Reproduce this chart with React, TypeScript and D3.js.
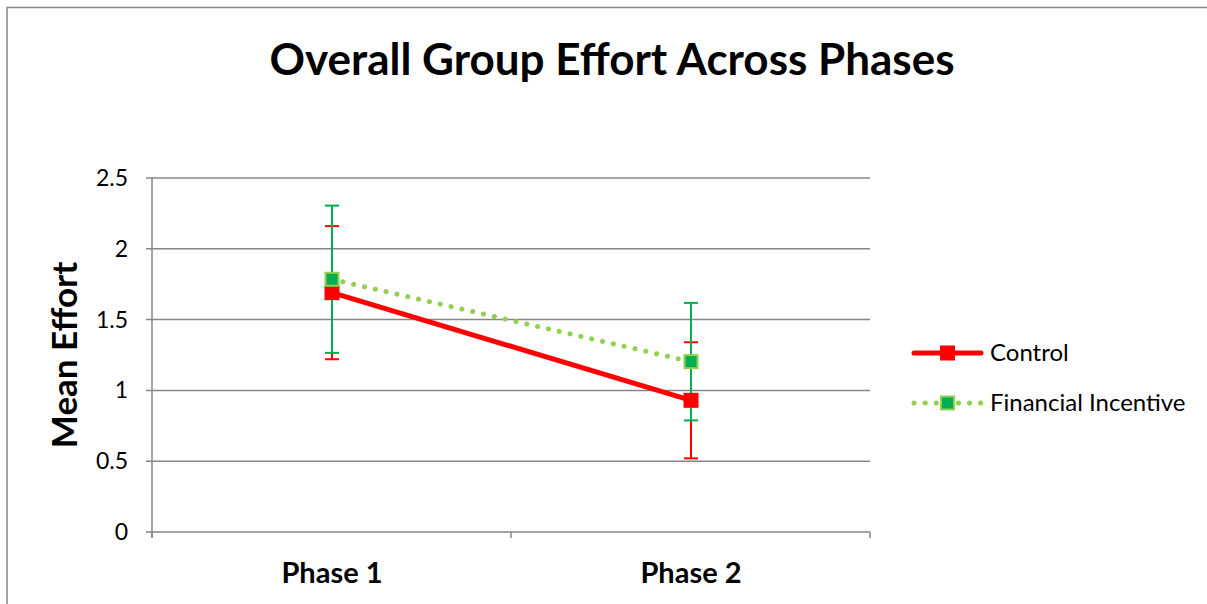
import React, { useEffect, useRef } from "react";
import * as d3 from "d3";

const phases = ["Phase 1", "Phase 2"];
const controlMeans = [1.69, 0.93];
const controlErrors = [0.47, 0.41];
const incentiveMeans = [1.785, 1.203];
const incentiveErrors = [0.52, 0.415];
const yTicks = [0, 0.5, 1, 1.5, 2, 2.5];

const FONT = "Lato, 'Open Sans', sans-serif";

const App: React.FC = () => {
  const ref = useRef<SVGSVGElement | null>(null);

  useEffect(() => {
    const svg = d3.select(ref.current);
    svg.selectAll("*").remove();

    const width = 1207;
    const height = 604;

    svg
      .append("rect")
      .attr("x", 7)
      .attr("y", 7.5)
      .attr("width", width + 20)
      .attr("height", height + 20)
      .attr("fill", "#fff")
      .attr("stroke", "#868686")
      .attr("stroke-width", 1.5);

    const left = 152;
    const right = 870;
    const top = 178;
    const bottom = 532;

    const x = d3.scaleBand().domain(phases).range([left, right]);
    const y = d3.scaleLinear().domain([0, 2.5]).range([bottom, top]);
    const cx = (p: string) => Math.round((x(p) ?? 0) + x.bandwidth() / 2);

    svg
      .append("text")
      .attr("x", 612)
      .attr("y", 75)
      .attr("text-anchor", "middle")
      .style("font", `bold 44px ${FONT}`)
      .text("Overall Group Effort Across Phases");

    // grid
    svg
      .append("g")
      .selectAll("line")
      .data(yTicks)
      .join("line")
      .attr("x1", left - 6)
      .attr("x2", right)
      .attr("y1", (d) => y(d))
      .attr("y2", (d) => y(d))
      .attr("stroke", "#868686")
      .attr("stroke-width", 1.5);

    svg
      .append("g")
      .selectAll("text")
      .data(yTicks)
      .join("text")
      .attr("x", 128)
      .attr("y", (d) => y(d) + 8)
      .attr("text-anchor", "end")
      .style("font", `23px ${FONT}`)
      .text((d) => String(d));

    // axes
    svg
      .append("line")
      .attr("x1", left)
      .attr("x2", left)
      .attr("y1", top)
      .attr("y2", bottom + 6)
      .attr("stroke", "#868686")
      .attr("stroke-width", 1.5);

    const xTickPos = [left, ...phases.map((p) => (x(p) ?? 0) + x.bandwidth())];
    svg
      .append("g")
      .selectAll("line")
      .data(xTickPos)
      .join("line")
      .attr("x1", (d) => d)
      .attr("x2", (d) => d)
      .attr("y1", bottom)
      .attr("y2", bottom + 6)
      .attr("stroke", "#868686")
      .attr("stroke-width", 1.5);

    svg
      .append("g")
      .selectAll("text")
      .data(phases)
      .join("text")
      .attr("x", (d) => cx(d))
      .attr("y", 583)
      .attr("text-anchor", "middle")
      .style("font", `bold 29px ${FONT}`)
      .text((d) => d);

    svg
      .append("text")
      .attr("transform", `translate(77,355) rotate(-90)`)
      .attr("text-anchor", "middle")
      .style("font", `bold 35px ${FONT}`)
      .text("Mean Effort");

    const series = [
      {
        means: controlMeans,
        errors: controlErrors,
        line: "#FF0000",
        dash: null as string | null,
        errColor: "#FF0000",
        fill: "#FF0000",
        border: "#FF0000",
      },
      {
        means: incentiveMeans,
        errors: incentiveErrors,
        line: "#92D050",
        dash: "0.1 11",
        errColor: "#00B050",
        fill: "#00B050",
        border: "#92D050",
      },
    ];

    const lineGen = d3
      .line<number>()
      .x((_, i) => cx(phases[i]))
      .y((d) => y(d));

    // error bars
    series.forEach((s) => {
      const g = svg.append("g");
      s.means.forEach((m, i) => {
        const px = cx(phases[i]);
        const hi = y(m + s.errors[i]);
        const lo = y(m - s.errors[i]);
        g.append("line")
          .attr("x1", px)
          .attr("x2", px)
          .attr("y1", hi)
          .attr("y2", lo)
          .attr("stroke", s.errColor)
          .attr("stroke-width", 2);
        [hi, lo].forEach((yy) =>
          g
            .append("line")
            .attr("x1", px - 7)
            .attr("x2", px + 7)
            .attr("y1", yy)
            .attr("y2", yy)
            .attr("stroke", s.errColor)
            .attr("stroke-width", 2)
        );
      });
    });

    series.forEach((s) => {
      const p = svg
        .append("path")
        .datum(s.means)
        .attr("d", lineGen)
        .attr("fill", "none")
        .attr("stroke", s.line)
        .attr("stroke-width", 5)
        .attr("stroke-linecap", "round");
      if (s.dash) p.attr("stroke-dasharray", s.dash);
    });

    series.forEach((s) => {
      svg
        .append("g")
        .selectAll("rect")
        .data(s.means)
        .join("rect")
        .attr("x", (_, i) => cx(phases[i]) - 6.5)
        .attr("y", (d) => y(d) - 6.5)
        .attr("width", 13)
        .attr("height", 13)
        .attr("fill", s.fill)
        .attr("stroke", s.border)
        .attr("stroke-width", 2);
    });

    // legend
    const legendNames = ["Control", "Financial Incentive"];
    legendNames.forEach((name, i) => {
      const s = series[i];
      const ly = 353 + i * 50;
      const l = svg
        .append("line")
        .attr("x1", 914)
        .attr("x2", 981)
        .attr("y1", ly)
        .attr("y2", ly)
        .attr("stroke", s.line)
        .attr("stroke-width", 5)
        .attr("stroke-linecap", "round");
      if (s.dash) l.attr("stroke-dasharray", s.dash);
      svg
        .append("rect")
        .attr("x", 947.5 - 6.5)
        .attr("y", ly - 6.5)
        .attr("width", 13)
        .attr("height", 13)
        .attr("fill", s.fill)
        .attr("stroke", s.border)
        .attr("stroke-width", 2);
      svg
        .append("text")
        .attr("x", 990)
        .attr("y", ly + 8)
        .style("font", `24px ${FONT}`)
        .text(name);
    });
  }, []);

  return (
    <svg
      ref={ref}
      width={1207}
      height={604}
      style={{ position: "absolute", left: 0, top: 0, display: "block" }}
    />
  );
};

export default App;
